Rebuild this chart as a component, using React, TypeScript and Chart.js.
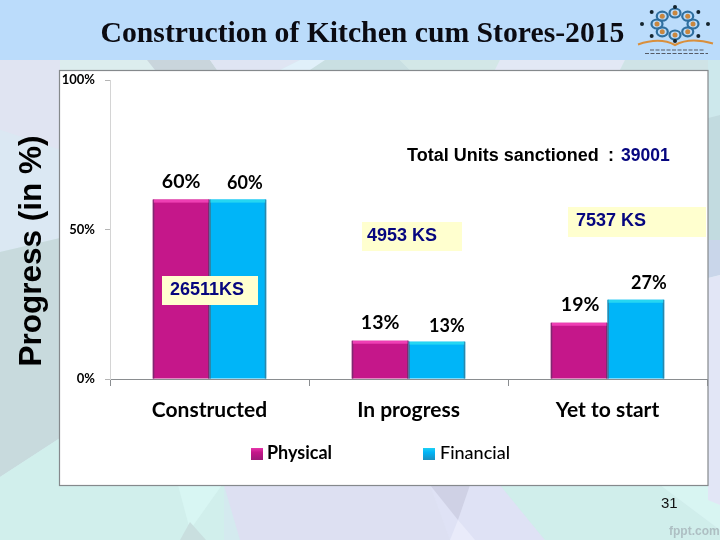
import React, { useEffect, useRef } from "react";
import { Chart, registerables } from "chart.js";

Chart.register(...registerables);

const categories = ["Constructed", "In progress", "Yet to start"];
const physical = [60, 12.8, 18.8];
const financial = [60, 12.5, 26.5];
const yTicks = [0, 50, 100];
const chartTitle = "Construction of Kitchen cum Stores-2015";
const axisTitle = "Progress (in %)";

const MAGENTA = "#c5178a";
const SKY = "#00b5f8";
const NAVY = "#06067f";
const LATO = "Lato, 'Open Sans', sans-serif";
const ARIAL = "'Liberation Sans', Arial, sans-serif";

// hand nudges for the value labels, [dx, dy] from the top centre of each bar
const physicalNudge = [[0, -18], [0, -18], [1, -18]];
const financialNudge = [[7, -16], [10, -15], [13, -17]];

// slide background pieces
const bgPieces: [string, number[]][] = [
  ["#e0e4f2", [0, 60, 60, 60, 60, 150, 0, 130]],
  ["#dbe8f3", [0, 130, 60, 150, 60, 238, 0, 252]],
  ["#c8dadd", [0, 252, 60, 238, 60, 438, 0, 477]],
  ["#d1efec", [0, 477, 60, 438, 60, 540, 0, 540]],
  ["#d1efec", [60, 485, 224, 485, 224, 540, 60, 540]],
  ["#d8f6f3", [178, 485, 222, 485, 190, 530]],
  ["#c9dfdf", [190, 522, 206, 540, 180, 540]],
  ["#dde0f2", [224, 485, 430, 485, 470, 540, 240, 540]],
  ["#dfe2f5", [430, 485, 500, 485, 545, 540, 450, 540]],
  ["#cfd1e5", [430, 485, 470, 485, 458, 520]],
  ["#e9ebfa", [458, 520, 475, 540, 450, 540]],
  ["#d0eeeb", [500, 485, 660, 485, 720, 530, 720, 540, 545, 540]],
  ["#d8f5f2", [660, 485, 720, 485, 720, 530]],
  ["#cde8ec", [708, 60, 720, 60, 720, 115, 708, 118]],
  ["#c2dbe0", [708, 118, 720, 115, 720, 240, 708, 240]],
  ["#c9d6ea", [708, 240, 720, 240, 720, 275, 708, 278]],
  ["#e2e6f6", [708, 278, 720, 275, 720, 505, 708, 500]],
  ["#dcedee", [60, 60, 148, 60, 155, 70, 60, 70]],
  ["#c9d5dc", [147, 60, 210, 60, 217, 70, 155, 70]],
  ["#dfe5f3", [210, 60, 300, 60, 280, 70, 217, 70]],
  ["#e0f0fa", [300, 60, 330, 60, 312, 70, 280, 70]],
  ["#dcf0f6", [330, 60, 400, 60, 400, 70, 312, 70]],
  ["#c9dfe2", [325, 60, 400, 60, 410, 70, 310, 70]],
  ["#d3e7e7", [400, 60, 500, 60, 495, 70, 410, 70]],
  ["#e2e8f5", [500, 60, 625, 60, 620, 70, 495, 70]],
  ["#cfe3e6", [625, 60, 708, 60, 708, 70, 620, 70]],
];

function poly(ctx: CanvasRenderingContext2D, fill: string, pts: number[]) {
  ctx.fillStyle = fill;
  ctx.beginPath();
  ctx.moveTo(pts[0], pts[1]);
  for (let i = 2; i < pts.length; i += 2) ctx.lineTo(pts[i], pts[i + 1]);
  ctx.closePath();
  ctx.fill();
}

function drawLogo(ctx: CanvasRenderingContext2D) {
  const cx = 675;
  const cy = 24;
  ctx.save();
  ctx.lineWidth = 2.2;
  for (let i = 0; i < 8; i++) {
    const a = (i * Math.PI) / 4 - Math.PI / 2;
    const x = cx + Math.cos(a) * 18;
    const y = cy + Math.sin(a) * 11;
    ctx.strokeStyle = "#2f6f9f";
    ctx.beginPath();
    ctx.ellipse(x, y, 5.5, 4.5, 0, 0, Math.PI * 2);
    ctx.stroke();
    ctx.fillStyle = "#c9873f";
    ctx.beginPath();
    ctx.arc(x, y, 2.5, 0, Math.PI * 2);
    ctx.fill();
    ctx.fillStyle = "#14242e";
    ctx.beginPath();
    ctx.arc(cx + Math.cos(a) * 33, cy + Math.sin(a) * 17, 2, 0, Math.PI * 2);
    ctx.fill();
  }
  ctx.strokeStyle = "#d98f3c";
  ctx.lineWidth = 2;
  ctx.beginPath();
  ctx.moveTo(638, 44.5);
  ctx.quadraticCurveTo(660, 37, 675, 45);
  ctx.quadraticCurveTo(690, 37, 713, 43.5);
  ctx.stroke();
  ctx.strokeStyle = "#555b66";
  ctx.lineWidth = 1;
  ctx.setLineDash([4, 1.5]);
  ctx.beginPath();
  ctx.moveTo(650, 50);
  ctx.lineTo(704, 50);
  ctx.moveTo(645, 53.5);
  ctx.lineTo(708, 53.5);
  ctx.stroke();
  ctx.restore();
}

const slidePlugin = {
  id: "slide",
  beforeDraw(chart: Chart) {
    const ctx = chart.ctx;
    ctx.save();
    ctx.fillStyle = "#d4eaef";
    ctx.fillRect(0, 0, 720, 540);
    bgPieces.forEach(([c, pts]) => poly(ctx, c, pts));
    ctx.fillStyle = "#bbdcfb";
    ctx.fillRect(0, 0, 720, 60);
    drawLogo(ctx);
    ctx.fillStyle = "#ffffff";
    ctx.fillRect(59.5, 70.5, 648.5, 415);
    ctx.strokeStyle = "#85898c";
    ctx.lineWidth = 1.2;
    ctx.strokeRect(59.5, 70.5, 648.5, 415);

    ctx.translate(41, 251);
    ctx.rotate(-Math.PI / 2);
    ctx.fillStyle = "#000";
    ctx.font = `bold 31.5px ${ARIAL}`;
    ctx.textAlign = "center";
    ctx.textBaseline = "alphabetic";
    ctx.fillText(axisTitle, 0, 0);
    ctx.restore();
  },
  afterDatasetsDraw(chart: Chart) {
    const ctx = chart.ctx;
    ctx.save();
    // bevel on the bars
    chart.data.datasets.forEach((ds, i) => {
      const light = i === 0 ? "#ee3fb4" : "#25d6f2";
      const dark = i === 0 ? "#7e2a70" : "#2b87ab";
      chart.getDatasetMeta(i).data.forEach((bar: any) => {
        const w = bar.width;
        const left = bar.x - w / 2;
        const h = bar.base - bar.y;
        ctx.fillStyle = dark;
        ctx.fillRect(left, bar.y, 1.5, h);
        ctx.fillRect(left + w - 1.5, bar.y, 1.5, h);
        ctx.fillStyle = light;
        ctx.fillRect(left + 1, bar.y, w - 2, 3);
      });
    });

    // value labels
    ctx.fillStyle = "#000";
    ctx.textAlign = "center";
    ctx.textBaseline = "middle";
    chart.data.datasets.forEach((ds, i) => {
      const nudges = i === 0 ? physicalNudge : financialNudge;
      ctx.font = `bold ${i === 0 ? 19.5 : 18}px ${LATO}`;
      chart.getDatasetMeta(i).data.forEach((bar: any, j: number) => {
        const [dx, dy] = nudges[j];
        ctx.fillText(`${Math.round(ds.data[j] as number)}%`, bar.x + dx, bar.y + dy);
      });
    });

    // callout boxes
    ctx.font = `bold 18px ${ARIAL}`;
    ctx.textAlign = "left";
    const callouts: [string, number, number, number, number, number, number][] = [
      ["26511KS", 162, 276, 96, 29, 170, 290],
      ["4953 KS", 362, 222, 100, 29, 367, 236],
      ["7537 KS", 568, 207, 138, 30, 576, 221],
    ];
    callouts.forEach(([text, x, y, w, h, tx, ty]) => {
      ctx.fillStyle = "#ffffcf";
      ctx.fillRect(x, y, w, h);
      ctx.fillStyle = NAVY;
      ctx.fillText(text, tx, ty);
    });

    ctx.fillStyle = "#000";
    ctx.fillText("Total Units sanctioned", 407, 156);
    ctx.fillText(":", 608, 156);
    ctx.font = `bold 17.5px ${ARIAL}`;
    ctx.fillStyle = NAVY;
    ctx.fillText("39001", 621, 156);

    // legend, the gap between entries is too wide for the built-in one
    const entries = [
      { x: 251, tx: 267, weight: "bold" },
      { x: 423, tx: 440, weight: "500" },
    ];
    chart.data.datasets.forEach((ds, i) => {
      const e = entries[i];
      const g = ctx.createLinearGradient(0, 447, 0, 460);
      g.addColorStop(0, i === 0 ? "#ee3fb4" : "#25d6f2");
      g.addColorStop(0.4, ds.backgroundColor as string);
      g.addColorStop(1, i === 0 ? "#9c1a78" : "#1a8fc0");
      ctx.fillStyle = g;
      ctx.fillRect(e.x, 448, 12, 12);
      ctx.fillStyle = "#000";
      ctx.font = `${e.weight} 18px ${LATO}`;
      ctx.fillText(ds.label as string, e.tx, 453);
    });

    ctx.font = `15px ${ARIAL}`;
    ctx.fillStyle = "#111";
    ctx.fillText("31", 661, 504);
    ctx.font = `bold 12px ${ARIAL}`;
    ctx.fillStyle = "#aebfc3";
    ctx.fillText("fppt.com", 669, 532);
    ctx.restore();
  },
};

export default function App(): React.JSX.Element {
  const canvasRef = useRef<HTMLCanvasElement | null>(null);

  useEffect(() => {
    if (!canvasRef.current) return;
    document.body.style.margin = "0";

    const chart = new Chart(canvasRef.current, {
      type: "bar",
      data: {
        labels: categories,
        datasets: [
          { label: "Physical", data: physical, backgroundColor: MAGENTA },
          { label: "Financial", data: financial, backgroundColor: SKY },
        ],
      },
      plugins: [slidePlugin],
      options: {
        responsive: false,
        animation: false,
        devicePixelRatio: 1,
        layout: { padding: { left: 18, right: 13 } },
        datasets: {
          bar: { categoryPercentage: 0.57, barPercentage: 1 },
        },
        scales: {
          x: {
            afterFit: (scale: any) => {
              scale.height = 161;
            },
            border: { color: "#8a8d90" },
            grid: { drawOnChartArea: false, tickLength: 7, color: "#8a8d90" },
            ticks: {
              color: "#000",
              padding: 12,
              maxRotation: 0,
              font: { family: LATO, size: 21, weight: "bold" },
            },
          },
          y: {
            min: 0,
            max: 100,
            afterFit: (scale: any) => {
              scale.width = 92;
            },
            afterBuildTicks: (scale: any) => {
              scale.ticks = yTicks.map((value) => ({ value }));
            },
            border: { color: "#d4d4d4" },
            grid: { drawOnChartArea: false, tickLength: 5, color: "#b5b5b5" },
            ticks: {
              color: "#000",
              padding: 10,
              font: { family: LATO, size: 13, weight: "bold" },
              callback: (v: any) => `${v}%`,
            },
          },
        },
        plugins: {
          legend: { display: false },
          tooltip: { enabled: false },
          title: {
            display: true,
            text: chartTitle,
            color: "#0b0b12",
            font: { family: "'Liberation Serif', serif", size: 29.7, weight: "bold" },
            padding: { top: 17, bottom: 27.36 },
          },
        },
      },
    });

    return () => {
      chart.destroy();
    };
  }, []);

  return (
    <canvas
      ref={canvasRef}
      width={720}
      height={540}
      style={{ display: "block", width: 720, height: 540 }}
    />
  );
}
